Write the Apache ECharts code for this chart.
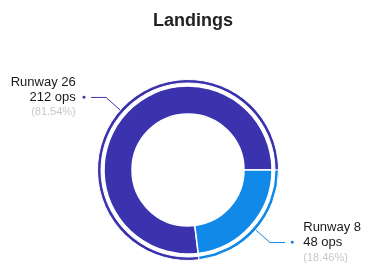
<!DOCTYPE html>
<html>
<head>
<meta charset="utf-8">
<script src="https://cdn.jsdelivr.net/npm/echarts@6/dist/echarts.min.js"></script>
<style>
  html, body { margin: 0; padding: 0; background: #fff; }
  #chart { width: 368px; height: 275px; }
</style>
</head>
<body>
<div id="chart"></div>
<script>
// runway data
const runways = ['Runway 26', 'Runway 8'];
const ops = [212, 48];
const colors = ['#3b32ae', '#1189e8'];
const ringColors = ['#2c219c', '#1189e8'];
const dotColors = ['#3b32ae', '#1a78d0'];

const pieData = runways.map((name, i) => ({ name: name, value: ops[i] }));

const myChart = echarts.init(document.getElementById('chart'));

// the small slice is drawn wider than its share in the original
const MIN_ANGLE = 83;

// left label: dot on the right of line 2, right label: dot on the left
const labelFmt = function (p) {
  const pct = '(' + p.percent.toFixed(2) + '%)';
  if (p.dataIndex === 0) {
    return '{n|' + p.name + '}{h0|●}\n{n|' + p.value + ' ops}{d0|●}\n{p|' + pct + '}{h0|●}';
  }
  return '{h1|●}{n|' + p.name + '}\n{d1|●}{n|' + p.value + ' ops}\n{h1|●}{p|' + pct + '}';
};

const option = {
  title: {
    text: 'Landings',
    left: 148,
    top: 7,
    textStyle: {
      fontFamily: 'Liberation Sans',
      fontSize: 18,
      fontWeight: 'bold',
      color: '#222',
    },
  },
  series: [
    {
      type: 'pie',
      center: [188, 170],
      radius: [56, 84],
      startAngle: -MIN_ANGLE,
      minAngle: MIN_ANGLE,
      silent: true,
      color: colors,
      itemStyle: { borderColor: '#fff', borderWidth: 1.5 },
      label: { show: false },
      labelLine: { show: false },
      data: pieData,
    },
    {
      type: 'pie',
      center: [188, 170],
      radius: [87, 90.5],
      startAngle: -MIN_ANGLE,
      minAngle: MIN_ANGLE,
      silent: true,
      color: ringColors,
      itemStyle: { borderColor: '#fff', borderWidth: 1 },
      label: {
        show: true,
        formatter: labelFmt,
        overflow: 'none',
        edgeDistance: 0,
        fontFamily: 'Liberation Sans',
        lineHeight: 15,
        rich: {
          n: { fontFamily: 'Liberation Sans', fontSize: 13, color: '#1a1a1a', lineHeight: 15 },
          p: { fontFamily: 'Liberation Sans', fontSize: 11, color: '#c8c8c8', lineHeight: 15 },
          d0: { fontSize: 7, color: dotColors[0], padding: [0, 0, 0, 6] },
          d1: { fontSize: 7, color: dotColors[1], padding: [0, 9, 0, 0] },
          h0: { fontSize: 7, color: 'transparent', padding: [0, 0, 0, 6] },
          h1: { fontSize: 7, color: 'transparent', padding: [0, 9, 0, 0] },
        },
      },
      labelLine: {
        show: true,
        length: 19,
        length2: 15,
        lineStyle: { width: 1 },
      },
      data: pieData,
    },
  ],
};

myChart.setOption(option);
</script>
</body>
</html>
